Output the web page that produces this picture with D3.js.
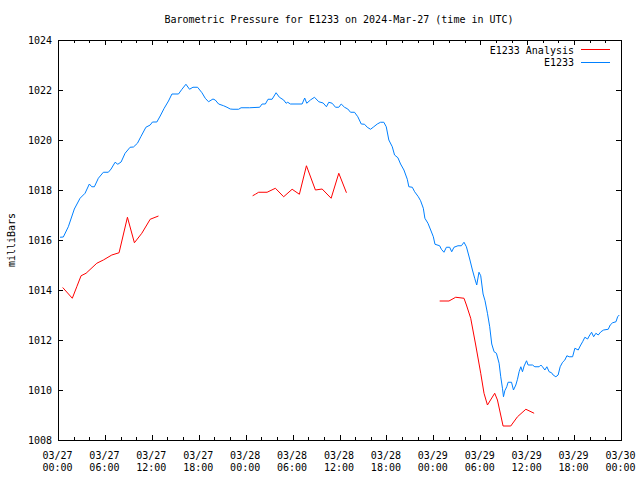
<!DOCTYPE html>
<html><head><meta charset="utf-8">
<script src="https://cdn.jsdelivr.net/npm/d3@7"></script>
<style>
body{margin:0;background:#fff;}
svg{display:block;}
text{font-family:"DejaVu Sans Mono",monospace;font-size:10px;fill:#000;}
</style></head>
<body>
<svg id="c" width="640" height="480"></svg>
<script>
// ---- data (hours after 2024-03-27 00:00 UTC, pressure in milliBars) ----
const stationHours = [0.26,0.68,1.32,2.09,2.82,3.46,4.01,4.32,4.65,5.16,5.80,6.44,6.79,7.30,7.65,8.07,8.58,9.22,9.65,10.16,10.59,11.24,11.79,12.08,12.64,13.07,13.58,14.13,14.57,15.41,15.85,16.36,16.82,17.26,17.85,18.41,18.83,19.25,19.82,20.11,20.54,21.18,21.61,22.03,22.38,23.10,23.41,24.51,25.79,26.10,26.52,26.86,27.38,27.89,28.31,28.86,29.17,29.38,29.72,31.22,31.55,31.81,32.28,32.80,33.35,33.91,34.33,34.63,35.06,35.49,35.91,36.22,36.64,37.06,37.41,37.92,38.34,38.78,39.20,39.55,39.97,40.39,40.83,41.25,41.67,41.98,42.31,42.75,43.04,43.47,43.81,44.24,44.67,44.87,45.31,45.61,46.08,46.37,46.72,46.92,47.31,47.66,48.00,48.21,48.81,49.03,49.36,49.67,50.09,50.35,50.64,51.15,51.59,51.92,52.23,52.65,53.00,53.29,53.55,53.84,54.06,54.36,54.61,54.92,55.21,55.47,55.77,56.07,56.41,56.62,56.84,56.97,57.14,57.39,57.56,58.00,58.25,58.55,58.76,58.97,59.19,59.40,59.61,59.92,60.12,60.68,60.98,61.53,61.75,61.96,62.26,62.52,62.81,63.12,63.32,63.67,63.96,64.22,64.53,64.82,65.08,65.37,65.81,66.10,66.53,66.78,67.09,67.38,67.73,67.93,68.24,68.50,68.79,69.09,69.43,69.78,70.37,70.62,70.93,71.36,71.57,71.78];
const stationValues = [1016.11,1016.12,1016.53,1017.24,1017.67,1017.87,1018.24,1018.13,1018.13,1018.47,1018.71,1018.71,1018.84,1019.11,1019.03,1019.12,1019.47,1019.71,1019.72,1019.87,1020.13,1020.51,1020.60,1020.72,1020.72,1020.96,1021.27,1021.56,1021.84,1021.84,1022.03,1022.23,1022.03,1022.11,1022.11,1021.89,1021.67,1021.53,1021.64,1021.60,1021.44,1021.37,1021.31,1021.24,1021.23,1021.23,1021.29,1021.29,1021.31,1021.44,1021.44,1021.63,1021.63,1021.89,1021.71,1021.60,1021.47,1021.51,1021.44,1021.44,1021.68,1021.47,1021.60,1021.71,1021.53,1021.48,1021.33,1021.51,1021.47,1021.31,1021.31,1021.44,1021.31,1021.24,1021.11,1021.11,1020.93,1020.64,1020.63,1020.51,1020.43,1020.53,1020.64,1020.71,1020.71,1020.53,1020.00,1019.73,1019.40,1019.29,1019.04,1018.80,1018.43,1018.13,1018.11,1017.93,1017.73,1017.57,1017.27,1016.87,1016.67,1016.40,1016.13,1015.83,1015.77,1015.63,1015.51,1015.71,1015.71,1015.53,1015.71,1015.77,1015.77,1015.91,1015.73,1015.24,1014.80,1014.47,1014.20,1014.71,1014.57,1013.84,1013.57,1013.07,1012.53,1011.84,1011.53,1011.47,1011.07,1010.53,1010.07,1009.73,1009.97,1010.13,1010.31,1010.31,1010.00,1010.20,1010.43,1010.73,1010.93,1010.73,1010.96,1011.17,1011.00,1011.00,1010.93,1010.93,1011.00,1010.93,1010.80,1010.93,1010.73,1010.69,1010.60,1010.53,1010.60,1010.93,1011.11,1011.20,1011.37,1011.33,1011.33,1011.67,1011.60,1011.76,1011.93,1012.11,1012.04,1012.16,1012.31,1012.13,1012.27,1012.20,1012.33,1012.40,1012.43,1012.60,1012.69,1012.73,1012.93,1013.00];
// analysis series; null marks a gap
const analysisHours = [0.6,1.83,2.40,2.95,3.59,4.96,5.80,6.88,7.81,8.88,9.77,10.72,11.79,12.85, 18.0, 24.89,25.24,25.66,26.74,27.80,28.86,29.94,30.87,31.77,32.92,33.78,34.93,35.91,36.89, 42.0, 48.81,50.00,50.86,51.92,52.23,52.78,53.42,54.06,54.48,54.92,55.85,56.20,56.92,57.90,58.76,59.83,60.89];
const analysisValues = [1014.10,1013.67,1014.13,1014.57,1014.67,1015.07,1015.20,1015.40,1015.49,1016.91,1015.89,1016.27,1016.83,1016.96, null, 1017.77,1017.83,1017.91,1017.91,1018.07,1017.73,1018.03,1017.83,1018.97,1018.00,1018.04,1017.67,1018.67,1017.89, null, 1013.56,1013.56,1013.71,1013.67,1013.40,1012.87,1011.80,1010.67,1009.87,1009.40,1009.87,1009.60,1008.56,1008.56,1008.93,1009.23,1009.07];
const yTicks = [1008,1010,1012,1014,1016,1018,1020,1022,1024];
const seriesNames = ["E1233 Analysis","E1233"];
const seriesColors = ["#ff0000","#0080ff"];
const titleText = "Barometric Pressure for E1233 on 2024-Mar-27 (time in UTC)";
const yLabel = "milliBars";

// ---- chart ----
const startMs = Date.UTC(2024,2,27,0,0);
const toDate = h => new Date(startMs + h*3600e3);
const svg = d3.select("#c");
const L=58, R=621, T=40, B=440;
const x = d3.scaleUtc().domain([toDate(0), toDate(72)]).range([L,R]);
const y = d3.scaleLinear().domain([1008,1024]).range([B,T]);

const minorTicks = d3.utcHour.every(2).range(toDate(0), toDate(72.01));
const majorTicks = d3.utcHour.every(6).range(toDate(0), toDate(72.01));

const g = svg.append("g").attr("shape-rendering","crispEdges");
// minor ticks bottom & top
g.append("g").attr("transform",`translate(0,${B})`)
  .call(d3.axisBottom(x).tickValues(minorTicks).tickSize(-3).tickFormat(""))
  .call(a=>a.select(".domain").remove());
g.append("g").attr("transform",`translate(0,${T})`)
  .call(d3.axisTop(x).tickValues(minorTicks).tickSize(-3).tickFormat(""))
  .call(a=>a.select(".domain").remove());
// major ticks bottom with labels
const xb = g.append("g").attr("transform",`translate(0,${B})`)
  .call(d3.axisBottom(x).tickValues(majorTicks).tickSize(-5).tickFormat(""))
  .call(a=>a.select(".domain").remove());
xb.selectAll(".tick").append("text")
  .attr("text-anchor","middle").attr("x",-1)
  .each(function(d){
    const t=d3.select(this);
    t.append("tspan").attr("x",-1).attr("y",19).text(d3.utcFormat("%m/%d")(d));
    t.append("tspan").attr("x",-1).attr("y",31).text(d3.utcFormat("%H:%M")(d));
  });
g.append("g").attr("transform",`translate(0,${T})`)
  .call(d3.axisTop(x).tickValues(majorTicks).tickSize(-5).tickFormat(""))
  .call(a=>a.select(".domain").remove());
// y axes
g.append("g").attr("transform",`translate(${L},0)`)
  .call(d3.axisLeft(y).tickValues(yTicks).tickSize(-5).tickPadding(6).tickFormat(d3.format("d")))
  .call(a=>a.select(".domain").remove())
  .call(a=>a.selectAll("text").attr("dy","0.35em").attr("x",-6));
g.append("g").attr("transform",`translate(${R},0)`)
  .call(d3.axisRight(y).tickValues(yTicks).tickSize(-5).tickFormat(""))
  .call(a=>a.select(".domain").remove());
g.selectAll(".tick line").attr("stroke","#000");
g.selectAll("text").attr("font-family",null).attr("font-size",null);

// frame
g.append("rect").attr("x",L).attr("y",T).attr("width",R-L).attr("height",B-T)
  .attr("fill","none").attr("stroke","#000");

// lines
const stationData = stationHours.map((h,i)=>({t:toDate(h),v:stationValues[i]}));
const analysisData = analysisHours.map((h,i)=>({t:toDate(h),v:analysisValues[i]}));
const line = d3.line().defined(d=>d.v!==null).x(d=>x(d.t)).y(d=>y(d.v));
svg.append("path").datum(analysisData).attr("d",line)
  .attr("fill","none").attr("stroke",seriesColors[0]).attr("stroke-width",1);
svg.append("path").datum(stationData).attr("d",line)
  .attr("fill","none").attr("stroke",seriesColors[1]).attr("stroke-width",1);

// title & y label
svg.append("text").attr("x",339).attr("y",23).attr("text-anchor","middle").text(titleText);
svg.append("text").attr("transform","translate(15,240) rotate(-90)").attr("text-anchor","middle").text(yLabel);

// legend
const leg = svg.append("g");
seriesNames.forEach((n,i)=>{
  const yy = 50 + i*12.5;
  leg.append("text").attr("x",574).attr("y",yy).attr("dy","0.35em").attr("text-anchor","end").text(n);
  leg.append("line").attr("x1",581).attr("x2",610).attr("y1",yy-0.5).attr("y2",yy-0.5)
    .attr("stroke",seriesColors[i]).attr("stroke-width",1).attr("shape-rendering","crispEdges");
});
</script>
</body></html>
